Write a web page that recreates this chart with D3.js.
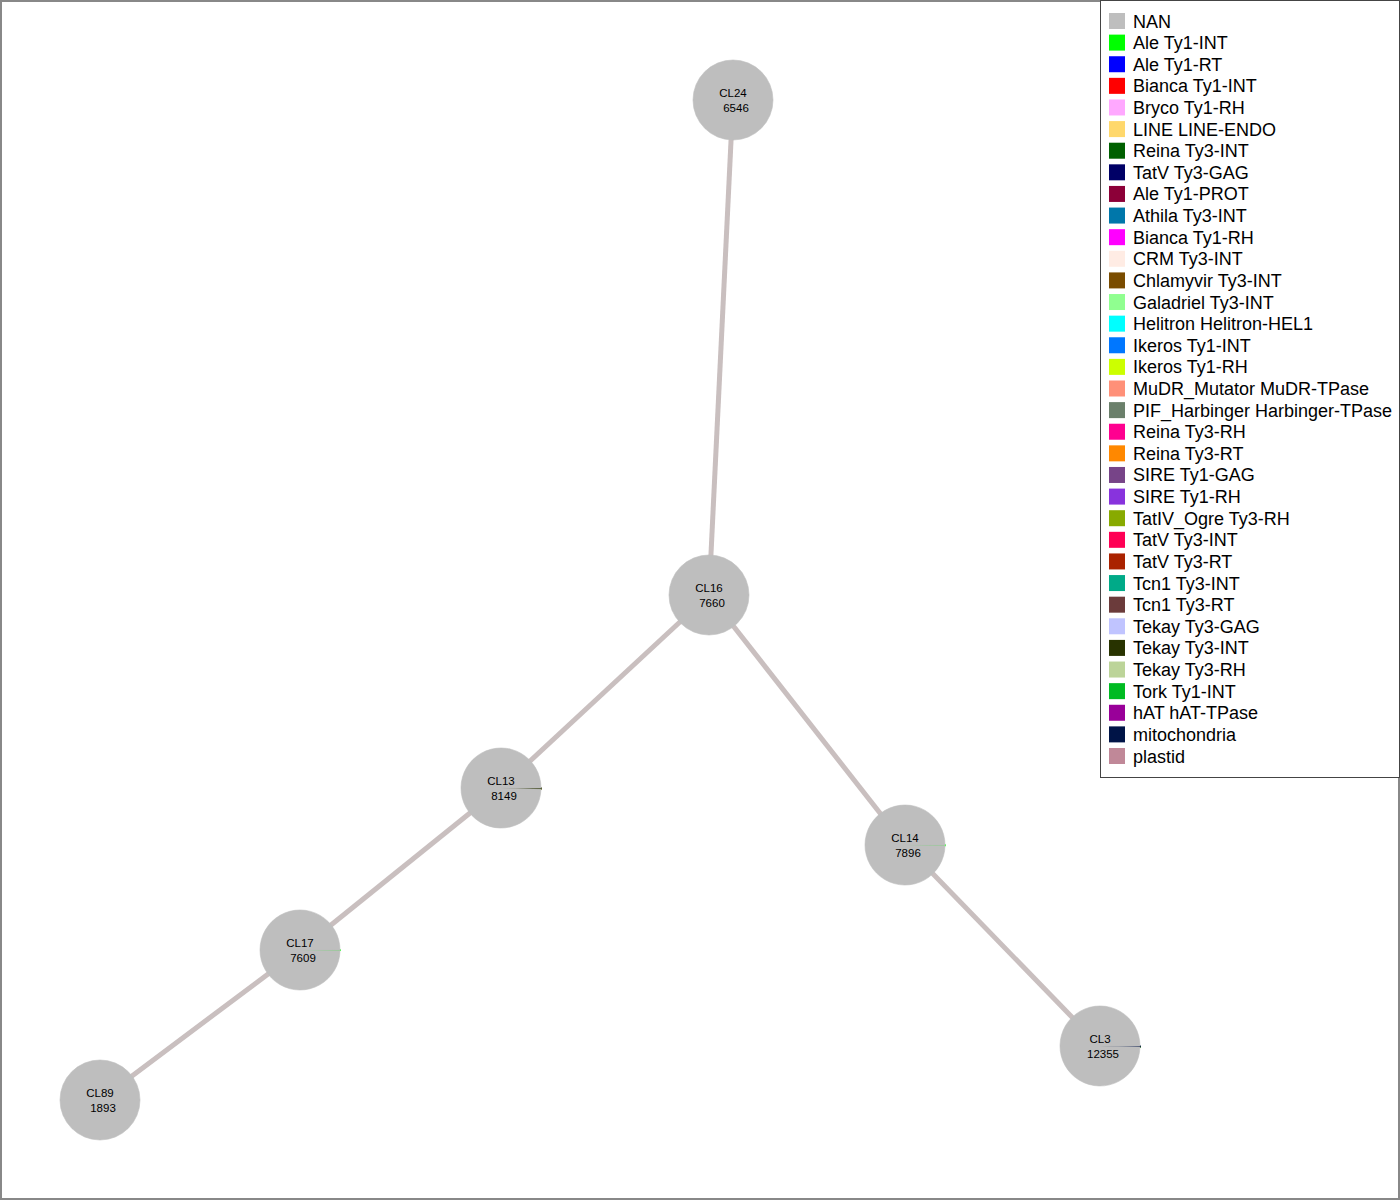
<!DOCTYPE html>
<html>
<head>
<meta charset="utf-8">
<script src="https://cdn.jsdelivr.net/npm/d3@7"></script>
<style>
  body { margin: 0; background: #fff; }
  svg text { font-family: "Liberation Sans", Arial, sans-serif; }
</style>
</head>
<body>
<div id="graph"></div>
<script>
// clusters and read counts
var clusterNames = ["CL24", "CL16", "CL13", "CL17", "CL89", "CL14", "CL3"];
var clusterReads = [6546, 7660, 8149, 7609, 1893, 7896, 12355];
// layout coordinates (igraph style, -1..1)
var layoutX = [0.266, 0.218, -0.198, -0.600, -1.000, 0.610, 1.000];
var layoutY = [1.000, 0.010, -0.376, -0.700, -1.000, -0.490, -0.892];
// edges as [from, to]
var edgeList = [["CL24", "CL16"], ["CL16", "CL13"], ["CL13", "CL17"], ["CL17", "CL89"], ["CL16", "CL14"], ["CL14", "CL3"]];

var categories = ["NAN", "Ale Ty1-INT", "Ale Ty1-RT", "Bianca Ty1-INT", "Bryco Ty1-RH", "LINE LINE-ENDO",
  "Reina Ty3-INT", "TatV Ty3-GAG", "Ale Ty1-PROT", "Athila Ty3-INT", "Bianca Ty1-RH", "CRM Ty3-INT",
  "Chlamyvir Ty3-INT", "Galadriel Ty3-INT", "Helitron Helitron-HEL1", "Ikeros Ty1-INT", "Ikeros Ty1-RH",
  "MuDR_Mutator MuDR-TPase", "PIF_Harbinger Harbinger-TPase", "Reina Ty3-RH", "Reina Ty3-RT", "SIRE Ty1-GAG",
  "SIRE Ty1-RH", "TatIV_Ogre Ty3-RH", "TatV Ty3-INT", "TatV Ty3-RT", "Tcn1 Ty3-INT", "Tcn1 Ty3-RT",
  "Tekay Ty3-GAG", "Tekay Ty3-INT", "Tekay Ty3-RH", "Tork Ty1-INT", "hAT hAT-TPase", "mitochondria", "plastid"];
var catColors = ["#bebebe", "#00ff00", "#0000ff", "#ff0000", "#ffa8ff", "#ffd86c",
  "#006000", "#000066", "#8c0038", "#0077aa", "#ff00ff", "#ffece4",
  "#7a4c00", "#90ff90", "#00ffff", "#0077ff", "#ccff00",
  "#ff9078", "#6b806b", "#ff0090", "#ff8800", "#774488",
  "#8833dd", "#88aa00", "#ff0055", "#aa2200", "#00aa88", "#6b3b3b",
  "#c0c4ff", "#283300", "#bcd499", "#00bb22", "#990099", "#001447", "#c08898"];

// annotated reads per cluster (NAN = unannotated)
var annotCL24 = {"NAN": 6546};
var annotCL16 = {"NAN": 7660};
var annotCL13 = {"NAN": 8105, "Ale Ty1-INT": 3, "Ikeros Ty1-RH": 3, "Bianca Ty1-INT": 3, "Tekay Ty3-GAG": 10, "Tekay Ty3-INT": 25};
var annotCL17 = {"NAN": 7597, "Ale Ty1-INT": 12};
var annotCL89 = {"NAN": 1893};
var annotCL14 = {"NAN": 7880, "Ale Ty1-INT": 16};
var annotCL3 = {"NAN": 12300, "Ale Ty1-INT": 5, "Tekay Ty3-INT": 20, "mitochondria": 30};
var annotations = [annotCL24, annotCL16, annotCL13, annotCL17, annotCL89, annotCL14, annotCL3];

var W = 1400, H = 1200;
var nodeR = 40;

var svg = d3.select("#graph").append("svg")
  .attr("width", W)
  .attr("height", H);

// frame
svg.append("rect")
  .attr("x", 1).attr("y", 1)
  .attr("width", W - 2).attr("height", H - 2)
  .attr("fill", "none")
  .attr("stroke", "#888")
  .attr("stroke-width", 2);

var xScale = d3.scaleLinear().domain([-1, 1]).range([100, 1100]);
var yScale = d3.scaleLinear().domain([-1, 1]).range([1100, 100]);
var color = d3.scaleOrdinal().domain(categories).range(catColors);

var nodes = clusterNames.map(function(n, i) {
  return {name: n, reads: clusterReads[i], x: xScale(layoutX[i]), y: yScale(layoutY[i]), annot: annotations[i]};
});
var byName = {};
nodes.forEach(function(n) { byName[n.name] = n; });

// edges
svg.selectAll("line.edge")
  .data(edgeList)
  .enter()
  .append("line")
  .attr("class", "edge")
  .attr("x1", function(d) { return byName[d[0]].x; })
  .attr("y1", function(d) { return byName[d[0]].y; })
  .attr("x2", function(d) { return byName[d[1]].x; })
  .attr("y2", function(d) { return byName[d[1]].y; })
  .attr("stroke", "#c9bfbf")
  .attr("stroke-width", 5);

// pie nodes, counter-clockwise from east like R
var pie = d3.pie()
  .value(function(d) { return d.value; })
  .sort(null)
  .startAngle(Math.PI / 2)
  .endAngle(Math.PI / 2 - 2 * Math.PI);
var arc = d3.arc().innerRadius(0).outerRadius(nodeR);

var g = svg.selectAll("g.node")
  .data(nodes)
  .enter()
  .append("g")
  .attr("class", "node")
  .attr("transform", function(d) { return "translate(" + d.x + "," + d.y + ")"; });

g.each(function(d) {
  var slices = categories
    .filter(function(c) { return d.annot[c]; })
    .map(function(c) { return {cat: c, value: d.annot[c]}; });
  var arcs = pie(slices);
  // small slices first, NAN on top so only the rim part shows
  arcs.sort(function(a, b) { return (a.data.cat === "NAN") - (b.data.cat === "NAN"); });
  d3.select(this).selectAll("path")
    .data(arcs)
    .enter()
    .append("path")
    .attr("d", arc)
    .attr("fill", function(s) { return color(s.data.cat); })
    .attr("stroke", function(s) { return color(s.data.cat); })
    .attr("stroke-width", function(s) { return s.data.cat === "NAN" ? 0.6 : 1.4; });
});

g.append("text")
  .attr("text-anchor", "middle")
  .attr("font-size", 11.5)
  .attr("fill", "#000")
  .attr("y", -3)
  .text(function(d) { return d.name; });
g.append("text")
  .attr("text-anchor", "middle")
  .attr("font-size", 11.5)
  .attr("fill", "#000")
  .attr("x", 3)
  .attr("y", 12)
  .text(function(d) { return d.reads; });

// legend
var legX = 1100, legY = 0, legW = 299, legH = 777;
svg.append("rect")
  .attr("x", legX + 0.5).attr("y", legY + 0.5)
  .attr("width", legW).attr("height", legH)
  .attr("fill", "#fff")
  .attr("stroke", "#444")
  .attr("stroke-width", 1);

var legScale = d3.scalePoint().domain(categories).range([21, 756]);
var leg = svg.selectAll("g.leg")
  .data(categories)
  .enter()
  .append("g")
  .attr("class", "leg")
  .attr("transform", function(d) { return "translate(" + legX + "," + legScale(d) + ")"; });
leg.append("rect")
  .attr("x", 9).attr("y", -8)
  .attr("width", 16).attr("height", 16)
  .attr("fill", function(d) { return color(d); });
leg.append("text")
  .attr("x", 33)
  .attr("y", 6.5)
  .attr("font-size", 18)
  .attr("fill", "#000")
  .text(function(d) { return d; });
</script>
</body>
</html>
